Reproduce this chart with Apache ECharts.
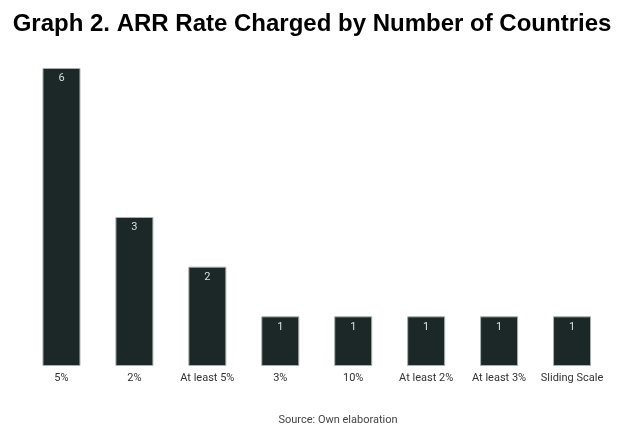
<!DOCTYPE html>
<html><head><meta charset="utf-8">
<script src="https://cdn.jsdelivr.net/npm/echarts@6/dist/echarts.min.js"></script>
<style>html,body{margin:0;padding:0;background:#fff}#c{width:624px;height:430px}</style>
</head><body><div id="c"></div>
<script>
const categories = ['5%', '2%', 'At least 5%', '3%', '10%', 'At least 2%', 'At least 3%', 'Sliding Scale'];
const countries = [6, 3, 2, 1, 1, 1, 1, 1];
const chart = echarts.init(document.getElementById('c'));
chart.setOption({
  backgroundColor: '#fff',
  animation: false,
  title: [{
    text: 'Graph 2. ARR Rate Charged by Number of Countries',
    left: 'center', top: 7,
    textStyle: {fontFamily: 'Liberation Sans', fontWeight: 'bold', fontSize: 24, color: '#000'}
  }, {
    text: 'Source: Own elaboration',
    left: 333, top: 410, textAlign: 'center',
    textStyle: {fontFamily: 'Roboto', fontWeight: 'normal', fontSize: 11, color: '#444'}
  }],
  grid: {left: 25, right: 15.5, top: 68, bottom: 64},
  xAxis: {
    type: 'category', data: categories,
    axisLine: {show: false}, axisTick: {show: false},
    axisLabel: {interval: 0, fontFamily: 'Roboto', fontSize: 11, color: '#333', margin: 7}
  },
  yAxis: {type: 'value', min: 0, max: 6, show: false, splitLine: {show: false}},
  series: [{
    type: 'bar', data: countries, barWidth: 38,
    itemStyle: {color: '#1c2828', borderColor: '#a8b0ae', borderWidth: 1},
    label: {show: true, position: 'insideTop', distance: 5, color: '#ddd', fontFamily: 'Roboto', fontSize: 11}
  }]
});
</script></body></html>
